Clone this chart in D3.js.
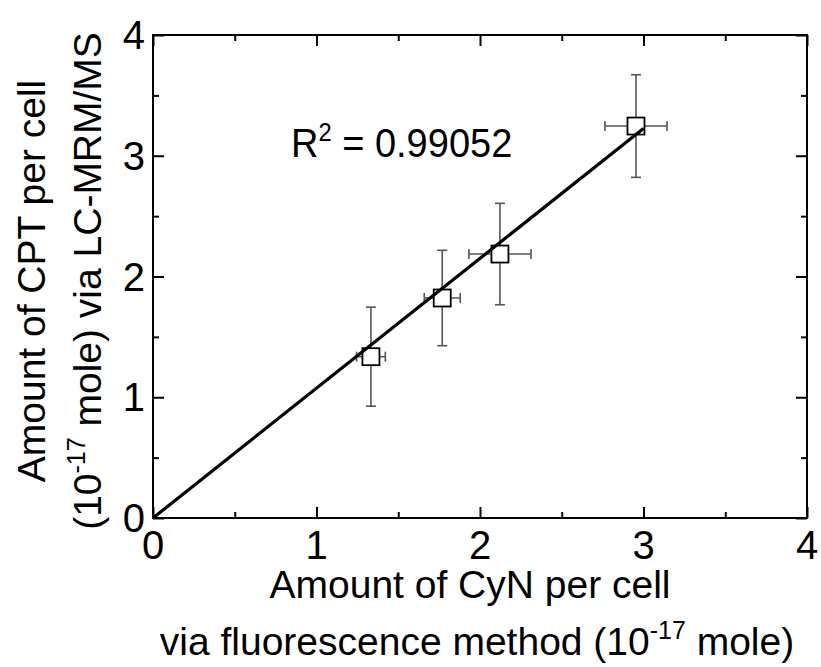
<!DOCTYPE html>
<html>
<head>
<meta charset="utf-8">
<script src="https://cdn.jsdelivr.net/npm/d3@7"></script>
<style>
  body { margin: 0; background: #fff; }
  text { font-family: "Liberation Sans", Arial, sans-serif; fill: #000; }
</style>
</head>
<body>
<div class="chart"></div>
<script>
const w = 821;
const h = 667;

// data
const cynX = [1.333, 1.769, 2.122, 2.954];
const cptY = [1.336, 1.822, 2.186, 3.246];
const cynErr = [0.088, 0.11, 0.19, 0.19];
const cptErr = [0.41, 0.395, 0.42, 0.425];
const fitSlope = 1.075;
const fitRange = [0, 3.0];
const tickValues = [0, 1, 2, 3, 4];
const minorTicks = [0.5, 1.5, 2.5, 3.5];

const m = {left: 153, right: 14, top: 35, bottom: 149};

const svg = d3.select(".chart")
  .append("svg")
  .attr("width", w)
  .attr("height", h);

const x = d3.scaleLinear().domain([0, 4]).range([m.left, w - m.right]);
const y = d3.scaleLinear().domain([0, 4]).range([h - m.bottom, m.top]);

const points = cynX.map((d, i) => ({x: d, y: cptY[i], ex: cynErr[i], ey: cptErr[i]}));

// axes on all four sides, ticks pointing inward
function frame(axis, transform, vals) {
  const g = svg.append("g").attr("transform", transform);
  g.call(axis.tickValues(vals).tickSize(vals === tickValues ? 11 : 6).tickFormat(""));
  g.select(".domain").remove();
  g.selectAll("line").attr("stroke", "#000").attr("stroke-width", 2);
  return g;
}
const bottomY = y(0), topY = y(4), leftX = x(0), rightX = x(4);
[tickValues, minorTicks].forEach(vals => {
  frame(d3.axisTop(x), `translate(0,${bottomY})`, vals);
  frame(d3.axisBottom(x), `translate(0,${topY})`, vals);
  frame(d3.axisRight(y), `translate(${leftX},0)`, vals);
  frame(d3.axisLeft(y), `translate(${rightX},0)`, vals);
});

svg.append("rect")
  .attr("x", leftX).attr("y", topY)
  .attr("width", rightX - leftX).attr("height", bottomY - topY)
  .attr("fill", "none").attr("stroke", "#000").attr("stroke-width", 2);

// tick labels
svg.selectAll(".xlab")
  .data(tickValues)
  .enter().append("text")
  .attr("class", "xlab")
  .attr("x", d => x(d))
  .attr("y", bottomY + 41)
  .attr("text-anchor", "middle")
  .attr("font-size", 40)
  .text(d => d);

svg.selectAll(".ylab")
  .data(tickValues)
  .enter().append("text")
  .attr("class", "ylab")
  .attr("x", leftX - 8)
  .attr("y", d => y(d) + 14)
  .attr("text-anchor", "end")
  .attr("font-size", 40)
  .text(d => d);

// error bars
const eb = svg.append("g").attr("stroke", "#555").attr("stroke-width", 1.6);
points.forEach(p => {
  eb.append("line").attr("x1", x(p.x)).attr("x2", x(p.x)).attr("y1", y(p.y - p.ey)).attr("y2", y(p.y + p.ey));
  eb.append("line").attr("x1", x(p.x - p.ex)).attr("x2", x(p.x + p.ex)).attr("y1", y(p.y)).attr("y2", y(p.y));
  [p.y - p.ey, p.y + p.ey].forEach(v => {
    eb.append("line").attr("x1", x(p.x) - 5).attr("x2", x(p.x) + 5).attr("y1", y(v)).attr("y2", y(v));
  });
  [p.x - p.ex, p.x + p.ex].forEach(v => {
    eb.append("line").attr("x1", x(v)).attr("x2", x(v)).attr("y1", y(p.y) - 5).attr("y2", y(p.y) + 5);
  });
});

// markers
svg.selectAll(".pt")
  .data(points)
  .enter().append("rect")
  .attr("class", "pt")
  .attr("x", d => x(d.x) - 8.5)
  .attr("y", d => y(d.y) - 8.5)
  .attr("width", 17).attr("height", 17)
  .attr("fill", "#fff").attr("stroke", "#000").attr("stroke-width", 1.8);

// fit line
svg.append("path")
  .datum(fitRange)
  .attr("d", d3.line().x(d => x(d)).y(d => y(d * fitSlope)))
  .attr("stroke", "#000").attr("stroke-width", 3.2).attr("fill", "none");

// R^2 label
const r2 = svg.append("text")
  .attr("transform", "translate(291,157) scale(0.95,1)")
  .attr("font-size", 40);
r2.append("tspan").text("R");
r2.append("tspan").attr("font-size", 25).attr("dy", -16).text("2");
r2.append("tspan").attr("dy", 16).text(" = 0.99052");

// axis titles
svg.append("text")
  .attr("x", 470).attr("y", 598)
  .attr("text-anchor", "middle").attr("font-size", 39)
  .text("Amount of CyN per cell");
const xt2 = svg.append("text")
  .attr("x", 477).attr("y", 655)
  .attr("text-anchor", "middle").attr("font-size", 39);
xt2.append("tspan").text("via fluorescence method (10");
xt2.append("tspan").attr("font-size", 25).attr("dy", -16).text("-17");
xt2.append("tspan").attr("dy", 16).text(" mole)");

svg.append("text")
  .attr("transform", "translate(45,281) rotate(-90)")
  .attr("text-anchor", "middle").attr("font-size", 39)
  .text("Amount of CPT per cell");
const yt2 = svg.append("text")
  .attr("transform", "translate(101,281) rotate(-90)")
  .attr("text-anchor", "middle").attr("font-size", 39);
yt2.append("tspan").text("(10");
yt2.append("tspan").attr("font-size", 25).attr("dy", -16).text("-17");
yt2.append("tspan").attr("dy", 16).text(" mole) via LC-MRM/MS");
</script>
</body>
</html>
